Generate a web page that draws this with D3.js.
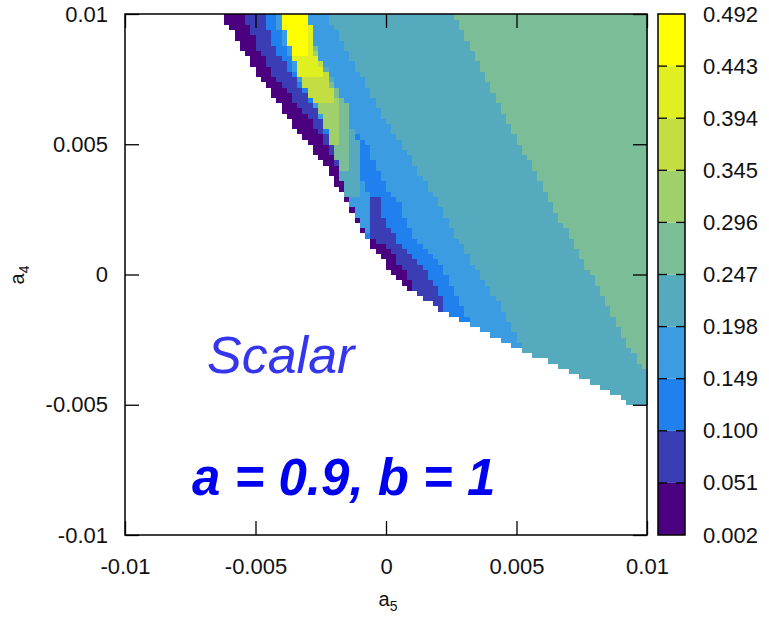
<!DOCTYPE html>
<html><head><meta charset="utf-8">
<script src="https://cdn.jsdelivr.net/npm/d3@7"></script>
<style>body{margin:0;background:#fff}</style>
</head><body>
<svg id="c" width="769" height="620"></svg>
<script>
// ---------- data ----------
const levelBounds = [0.002, 0.051, 0.100, 0.149, 0.198, 0.247, 0.296, 0.345, 0.394, 0.443, 0.492];
const levelLabels = ["0.002","0.051","0.100","0.149","0.198","0.247","0.296","0.345","0.394","0.443","0.492"];
const levelColors = ["#4b0080","#3a3db4","#2080ee","#3c9ce2","#55abbd","#7bbd96","#a0d06c","#c3dd42","#e0ef20","#ffff00"];
const xTicks = [-0.01, -0.005, 0, 0.005, 0.01];
const xTickLabels = ["-0.01","-0.005","0","0.005","0.01"];
const yTicks = [-0.01, -0.005, 0, 0.005, 0.01];
const yTickLabels = ["-0.01","-0.005","0","0.005","0.01"];

// contour regions [a5, a4] (painted in order, later on top)
const regionAll = [[-0.00625,0.0101],[0.0101,0.0101],[0.0101,-0.00512],[0.00946,-0.00501],[0.00847,-0.00443],[0.00693,-0.00367],[0.00525,-0.00290],[0.00360,-0.00213],[0.00199,-0.00125],[0.00100,-0.00063],[0.00023,0.00013],[-0.00054,0.00106],[-0.00092,0.00167],[-0.00130,0.00232],[-0.00169,0.00309],[-0.00234,0.00424],[-0.00360,0.00578],[-0.00490,0.00770],[-0.00617,0.00981]];
const regionIndigo = [[-0.00552,0.0101],[-0.00494,0.00873],[-0.00414,0.00743],[-0.00303,0.00616],[-0.00222,0.00489],[-0.00169,0.00359],[-0.00146,0.00282],[-0.00107,0.00205],[-0.00069,0.00140],[0.00008,0.00102],[0.00054,0.00040],[0.00100,-0.00040],[0.00138,-0.00090],[0.00234,-0.00144],[0.00300,-0.0030],[0.0101,-0.0060],[0.0101,0.0101]];
const regionBlue = [[-0.00475,0.0101],[-0.00425,0.00873],[-0.00341,0.00743],[-0.00261,0.00616],[-0.00207,0.00489],[-0.00165,0.00420],[-0.00165,0.00359],[-0.00142,0.00282],[-0.00103,0.00205],[-0.00065,0.00140],[0.00011,0.00102],[0.00057,0.00040],[0.00103,-0.00040],[0.00142,-0.00090],[0.00238,-0.00144],[0.00300,-0.0030],[0.0101,-0.0060],[0.0101,0.0101]];
const regionLightBlue = [[-0.00433,0.0101],[-0.00387,0.00873],[-0.00330,0.00743],[-0.00253,0.00616],[-0.00203,0.00489],[-0.00161,0.00359],[-0.00138,0.00282],[-0.00100,0.00205],[-0.00061,0.00140],[0.00015,0.00102],[0.00061,0.00040],[0.00107,-0.00040],[0.00146,-0.00090],[0.00241,-0.00144],[0.00300,-0.0030],[0.0101,-0.0060],[0.0101,0.0101]];
const regionTeal = [[-0.00234,0.0101],[-0.00015,0.00616],[0.00199,0.00282],[0.00299,0.00094],[0.00425,-0.00098],[0.00525,-0.00282],[0.00590,-0.00405],[0.0101,-0.0060],[0.0101,0.0101]];
const regionGreen = [[0.00253,0.0101],[0.00487,0.00547],[0.00732,0.00094],[0.00820,-0.00060],[0.00885,-0.00186],[0.00966,-0.00340],[0.0101,-0.00378],[0.0101,0.0101]];
const stripBlue = [[-0.00138,0.00562],[-0.00119,0.00562],[-0.00069,0.00489],[-0.00015,0.00359],[0.00046,0.00282],[0.00073,0.00205],[0.00123,0.00129],[0.00215,0.00040],[0.00264,-0.00060],[0.00330,-0.00202],[0.00360,-0.00271],[0.00169,-0.00213],[0.00138,-0.00090],[0.00100,-0.00040],[0.00054,0.00040],[0.00008,0.00102],[-0.00069,0.00140],[-0.00057,0.00171],[-0.00050,0.00228],[-0.00054,0.00301],[-0.00092,0.00359],[-0.00107,0.00489]];
const tongueIndigo = [[-0.00054,0.00301],[-0.00031,0.00301],[-0.00023,0.00248],[-0.00004,0.00205],[0.00046,0.00129],[0.00138,0.00040],[0.00199,-0.00060],[0.00234,-0.00144],[0.00169,-0.00182],[0.00138,-0.00090],[0.00100,-0.00040],[0.00054,0.00040],[0.00008,0.00102],[-0.00069,0.00140],[-0.00057,0.00171],[-0.00050,0.00228]];
const ridgeTeal = [[-0.00414,0.0101],[-0.00303,0.0101],[-0.00284,0.00950],[-0.00261,0.00846],[-0.00203,0.00747],[-0.00157,0.00631],[-0.00138,0.00562],[-0.00107,0.00516],[-0.00100,0.00401],[-0.00107,0.00309],[-0.00153,0.00301],[-0.00169,0.00359],[-0.00207,0.00489],[-0.00245,0.00616],[-0.00318,0.00743],[-0.00368,0.00873]];
const ridgeGreen = [[-0.00414,0.0101],[-0.00303,0.0101],[-0.00284,0.00950],[-0.00264,0.00846],[-0.00215,0.00747],[-0.00149,0.00651],[-0.00142,0.00555],[-0.00146,0.00413],[-0.00169,0.00393],[-0.00180,0.00397],[-0.00207,0.00489],[-0.00245,0.00616],[-0.00318,0.00743],[-0.00368,0.00873]];
const ridgeLime = [[-0.00414,0.0101],[-0.00303,0.0101],[-0.00284,0.00950],[-0.00268,0.00846],[-0.00222,0.00758],[-0.00188,0.00666],[-0.00184,0.00528],[-0.00192,0.00489],[-0.00207,0.00489],[-0.00245,0.00616],[-0.00318,0.00743],[-0.00368,0.00873]];
const ridgeOlive = [[-0.00414,0.0101],[-0.00303,0.0101],[-0.00284,0.00950],[-0.00272,0.00846],[-0.00215,0.00758],[-0.00199,0.00666],[-0.00284,0.00666],[-0.00318,0.00743],[-0.00368,0.00873]];
const ridgeChartreuse = [[-0.00414,0.0101],[-0.00303,0.0101],[-0.00284,0.00950],[-0.00276,0.00846],[-0.00234,0.00758],[-0.00326,0.00758],[-0.00368,0.00873]];
const ridgeYellow = [[-0.00414,0.0101],[-0.00303,0.0101],[-0.00303,0.00846],[-0.00360,0.00846],[-0.00368,0.00873]];

const layers = [
  [regionAll,0],[regionIndigo,1],[regionBlue,2],[regionLightBlue,3],[regionTeal,4],[regionGreen,5],
  [stripBlue,2],[tongueIndigo,1],
  [ridgeTeal,4],[ridgeGreen,5],[ridgeLime,6],[ridgeOlive,7],[ridgeChartreuse,8],[ridgeYellow,9]
];

// ---------- drawing ----------
const font = "'Liberation Sans', Arial, sans-serif";
const svg = d3.select("#c");
const xs = d3.scaleLinear().domain([-0.01,0.01]).range([125,647]);
const ys = d3.scaleLinear().domain([-0.01,0.01]).range([535,14]);

const nCells = 100, step = 0.02 / nCells;
const cells = [];
for (let i = 0; i < nCells; i++) for (let j = 0; j < nCells; j++) {
  const p = [-0.01 + (i + 0.5) * step, -0.01 + (j + 0.5) * step];
  if (!d3.polygonContains(regionAll, p)) continue;
  let lev = 0;
  for (const [poly, l] of layers) if (d3.polygonContains(poly, p)) lev = l;
  cells.push({x: p[0], y: p[1], lev});
}
const cw = xs(step) - xs(0), ch = ys(0) - ys(step);
svg.append("g").selectAll("rect").data(cells).join("rect")
  .attr("x", d => xs(d.x - step/2)).attr("y", d => ys(d.y + step/2))
  .attr("width", cw + 0.6).attr("height", ch + 0.6)
  .attr("fill", d => levelColors[d.lev]).attr("shape-rendering","crispEdges");

function styleAxis(g){
  g.select(".domain").remove();
  g.selectAll("line").attr("stroke","#000").attr("stroke-width",1.3);
  g.selectAll("text").attr("font-size",22).attr("font-family",font).attr("fill","#111");
}
svg.append("g").attr("transform","translate(0,535)")
  .call(d3.axisBottom(xs).tickValues(xTicks).tickFormat((d,i)=>xTickLabels[i]).tickSize(-14).tickPadding(23)).call(styleAxis);
svg.append("g").attr("transform","translate(0,14)")
  .call(d3.axisTop(xs).tickValues(xTicks).tickFormat("").tickSize(-14)).call(styleAxis);
svg.append("g").attr("transform","translate(125,0)")
  .call(d3.axisLeft(ys).tickValues(yTicks).tickFormat((d,i)=>yTickLabels[i]).tickSize(-14).tickPadding(17)).call(styleAxis);
svg.append("g").attr("transform","translate(647,0)")
  .call(d3.axisRight(ys).tickValues(yTicks).tickFormat("").tickSize(-14)).call(styleAxis);
svg.append("rect").attr("x",125).attr("y",14).attr("width",522).attr("height",521)
  .attr("fill","none").attr("stroke","#000").attr("stroke-width",1.5);

// colour bar
const cs = d3.scaleLinear().domain([levelBounds[0], levelBounds[levelBounds.length-1]]).range([535,14]);
const cbX = 658, cbW = 27;
svg.append("g").selectAll("rect").data(levelColors).join("rect")
  .attr("x", cbX).attr("width", cbW)
  .attr("y", (c,i) => cs(levelBounds[i+1])).attr("height", (c,i) => cs(levelBounds[i]) - cs(levelBounds[i+1]))
  .attr("fill", c => c);
const inner = levelBounds.slice(1, -1);
svg.append("g").selectAll("line").data(inner).join("line")
  .attr("x1", cbX).attr("x2", cbX + 9).attr("y1", d => cs(d)).attr("y2", d => cs(d))
  .attr("stroke","#000").attr("stroke-width",1.3);
svg.append("g").selectAll("line").data(inner).join("line")
  .attr("x1", cbX + cbW - 9).attr("x2", cbX + cbW).attr("y1", d => cs(d)).attr("y2", d => cs(d))
  .attr("stroke","#000").attr("stroke-width",1.3);
svg.append("rect").attr("x",cbX).attr("y",14).attr("width",cbW).attr("height",521)
  .attr("fill","none").attr("stroke","#000").attr("stroke-width",1.5);
svg.append("g").attr("transform",`translate(${cbX+cbW},0)`)
  .call(d3.axisRight(cs).tickValues(levelBounds).tickFormat((d,i)=>levelLabels[i]).tickSize(0).tickPadding(18))
  .call(styleAxis);

// axis titles
const xt = svg.append("text").attr("x",388).attr("y",606).attr("text-anchor","middle")
  .attr("font-family",font).attr("font-size",20).attr("fill","#111");
xt.append("tspan").text("a");
xt.append("tspan").attr("font-size",14).attr("dy",5).text("5");
const yt = svg.append("text").attr("transform","translate(24,275) rotate(-90)").attr("text-anchor","middle")
  .attr("font-family",font).attr("font-size",20).attr("fill","#111");
yt.append("tspan").text("a");
yt.append("tspan").attr("font-size",14).attr("dy",5).text("4");

// annotations
svg.append("text").attr("x",207).attr("y",373).attr("font-family",font).attr("font-size",52)
  .attr("font-style","italic").attr("fill","#3535ee").text("Scalar");
svg.append("text").attr("x",192).attr("y",495).attr("font-family",font).attr("font-size",51)
  .attr("font-style","italic").attr("font-weight","bold").attr("fill","#0000f0").text("a = 0.9, b = 1");
</script>
</body></html>
